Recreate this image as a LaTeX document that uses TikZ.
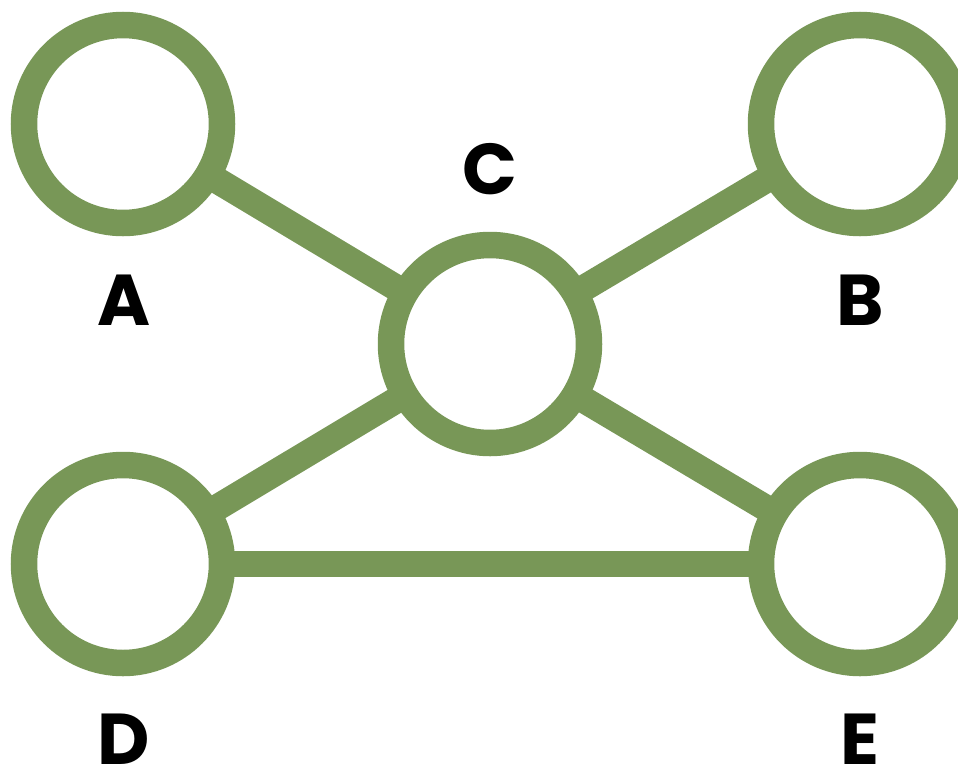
\documentclass[tikz,border=0pt]{standalone}
\usepackage{fontspec}
\setmainfont{Poppins}
\definecolor{ringgreen}{RGB}{120,151,87}
\tikzset{
  ring/.style={circle,draw=ringgreen,line width=26.5pt,minimum size=198pt,inner sep=0pt,outer sep=0pt},
  link/.style={draw=ringgreen,line width=26.5pt},
  lbl/.style={anchor=base,font=\fontsize{72}{80}\selectfont\bfseries}
}
\begin{document}
\begin{tikzpicture}[x=1pt,y=-1pt]
\useasboundingbox (0,0) rectangle (958,766);
% rings
\node[ring] (A) at (123,124) {};
\node[ring] (B) at (860,124) {};
\node[ring] (C) at (490,344) {};
\node[ring] (D) at (123,564) {};
\node[ring] (E) at (860,564) {};
% links
\foreach \From/\To in {A/C, B/C, D/C, E/C, D/E}{
    \draw[link] (\From) -- (\To);
}
% labels
\node[lbl] (labA) at (123.7,325.7) {A};
\node[lbl] (labB) at (860.5,325.7) {B};
\node[lbl] (labC) at (490,194) {C};
\node[lbl] (labD) at (123.7,764) {D};
\node[lbl] (labE) at (859.5,764) {E};
\end{tikzpicture}
\end{document}
